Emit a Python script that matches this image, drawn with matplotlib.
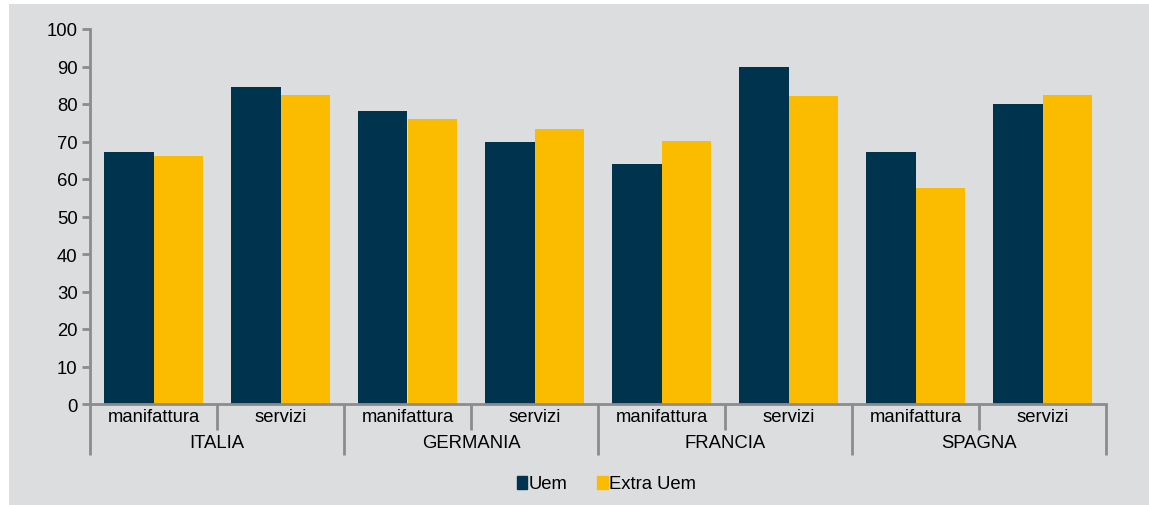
import numpy as np
import matplotlib.pyplot as plt
from matplotlib.patches import Patch

plt.rcParams['font.family'] = ['Liberation Sans', 'DejaVu Sans']

paesi = ['ITALIA', 'GERMANIA', 'FRANCIA', 'SPAGNA']
settori = ['manifattura', 'servizi']
uem = [67.1, 84.6, 78.1, 69.9, 63.9, 89.8, 67.1, 79.9]
extra_uem = [66.2, 82.4, 76.0, 73.3, 70.1, 82.1, 57.5, 82.4]

blu = '#00334d'
giallo = '#fbbc00'
grigio = '#8c8c8c'
sfondo = '#dcdddf'
fs = 13.3

fig = plt.figure(figsize=(11.49, 5.06), dpi=100)
fig.patch.set_facecolor('white')
# gray panel behind the chart
fig.patches.append(plt.Rectangle((9 / 1149, 0), 1, 1 - 5 / 506,
                                 transform=fig.transFigure, facecolor=sfondo,
                                 edgecolor='none', zorder=-10))

ax = fig.add_axes([90 / 1149, 1 - 405 / 506, 1016 / 1149, 375 / 506])
ax.set_facecolor(sfondo)

x = np.arange(len(uem))
w = 0.386
ax.bar(x - w / 2, uem, w, color=blu, label='Uem')
ax.bar(x + w / 2, extra_uem, w, color=giallo, label='Extra Uem')

ax.set_xlim(-0.5, len(uem) - 0.5)
ax.set_ylim(0, 100)
ax.set_yticks(range(0, 101, 10))
ax.tick_params(axis='y', length=6, width=2, color=grigio, labelsize=fs, pad=3)
ax.set_xticks([])
for s in ['top', 'right']:
    ax.spines[s].set_visible(False)
for s in ['left', 'bottom']:
    ax.spines[s].set_color(grigio)
    ax.spines[s].set_linewidth(2)

# two-level category axis
tr = ax.get_xaxis_transform()
px = 1 / 375
for i, nome in enumerate(settori * len(paesi)):
    ax.text(i, -13 * px, nome, transform=tr, ha='center', va='center', fontsize=fs)
for k in range(len(uem) + 1):
    pos = k - 0.5
    fondo = -51 * px if k % 2 == 0 else -26 * px
    ax.plot([pos, pos], [0, fondo], transform=tr, color=grigio, lw=2,
            clip_on=False, solid_capstyle='butt')
for j, p in enumerate(paesi):
    ax.text(2 * j + 0.5, -39 * px, p, transform=tr, ha='center', va='center', fontsize=fs)

handles = [Patch(color=blu, label='Uem'), Patch(color=giallo, label='Extra Uem')]
fig.legend(handles=handles, loc='center', bbox_to_anchor=(0.528, 1 - 485 / 506),
           ncol=2, frameon=False, fontsize=fs, handlelength=0.55, handleheight=0.7,
           handletextpad=0.1, columnspacing=1.6)

fig.savefig('out.png', dpi=100, facecolor=fig.get_facecolor())
